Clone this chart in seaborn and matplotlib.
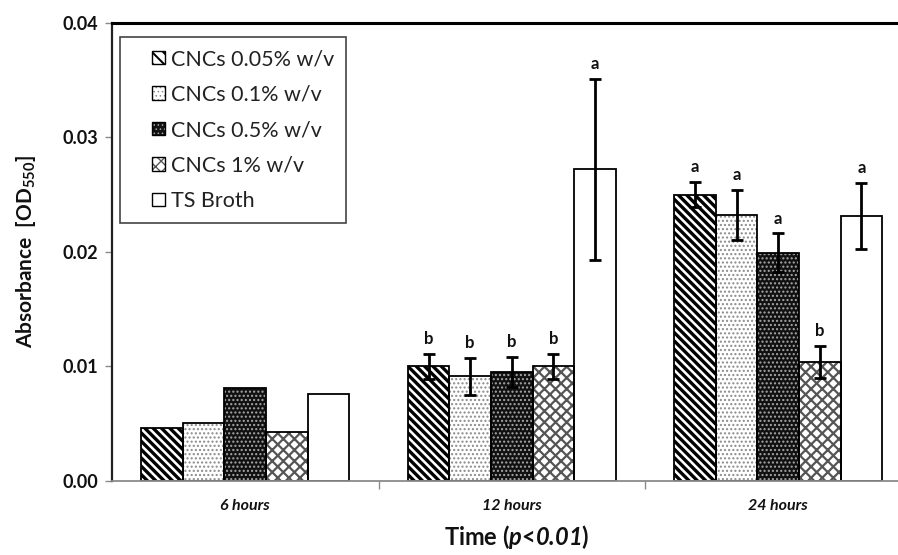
import numpy as np
import pandas as pd
import matplotlib
matplotlib.use("Agg")
import matplotlib.pyplot as plt
import seaborn as sns
from matplotlib.patches import Rectangle
from matplotlib.legend_handler import HandlerBase

# ---------------- data ----------------
times = ["6 hours", "12 hours", "24 hours"]
groups = ["CNCs 0.05% w/v", "CNCs 0.1% w/v", "CNCs 0.5% w/v", "CNCs 1% w/v", "TS Broth"]

cnc_005 = [0.0046, 0.0100, 0.0250]
cnc_01 = [0.0050, 0.0091, 0.0232]
cnc_05 = [0.0081, 0.0095, 0.0199]
cnc_1 = [0.0042, 0.0100, 0.0104]
ts_broth = [0.0076, 0.0272, 0.0231]

err_005 = [np.nan, 0.0011, 0.0011]
err_01 = [np.nan, 0.0016, 0.0022]
err_05 = [np.nan, 0.0013, 0.0017]
err_1 = [np.nan, 0.0011, 0.0014]
err_ts = [np.nan, 0.0079, 0.0029]

let_005 = ["", "b", "a"]
let_01 = ["", "b", "a"]
let_05 = ["", "b", "a"]
let_1 = ["", "b", "b"]
let_ts = ["", "a", "a"]

yticks = [0.00, 0.01, 0.02, 0.03, 0.04]

values = [cnc_005, cnc_01, cnc_05, cnc_1, ts_broth]
errors = [err_005, err_01, err_05, err_1, err_ts]
letters = [let_005, let_01, let_05, let_1, let_ts]

rows = []
for g, vals in zip(groups, values):
    for t, v in zip(times, vals):
        rows.append({"time": t, "group": g, "value": v})
df = pd.DataFrame(rows)

# ---------------- style ----------------
sns.set_theme(style="white")
FONT = "Lato"
plt.rcParams["font.family"] = [FONT, "DejaVu Sans"]
plt.rcParams["mathtext.fontset"] = "custom"
plt.rcParams["mathtext.rm"] = FONT
plt.rcParams["mathtext.it"] = FONT + ":italic"
plt.rcParams["mathtext.bf"] = FONT + ":bold"
try:
    plt.rcParams["mathtext.bfit"] = FONT + ":bold:italic"
except KeyError:
    pass
plt.rcParams["hatch.linewidth"] = 1.0

# per-group styles: face colour, hatch, hatch colour, hatch linewidth
faces = ["white", "white", "#111111", "white", "white"]
hatches = ["\\\\\\\\", "....", "....", "xxx", ""]
hatch_cols = ["black", "#8a8a8a", "#a8a8a8", "#555555", "black"]
hatch_lws = [2.4, 1.0, 1.0, 1.6, 1.0]

fig = plt.figure(figsize=(8.98, 5.55), dpi=100)
ax = fig.add_axes([112 / 898, 1 - 480.5 / 555, 799.5 / 898, 457.5 / 555])

sns.barplot(data=df, x="time", y="value", hue="group", order=times,
            hue_order=groups, palette=faces, saturation=1, width=0.78,
            errorbar=None, legend=False, linewidth=0, ax=ax)
fill_bars = sorted(list(ax.patches), key=lambda p: p.get_x())
for i, p in enumerate(fill_bars):
    g = i % len(groups)
    p.set_hatch(hatches[g])
    p.set_edgecolor(hatch_cols[g])
    p.set_linewidth(0)
    if hasattr(p, "set_hatch_linewidth"):
        p.set_hatch_linewidth(hatch_lws[g])

# outlines
sns.barplot(data=df, x="time", y="value", hue="group", order=times,
            hue_order=groups, palette=["black"] * 5, fill=False, width=0.78,
            errorbar=None, legend=False, linewidth=1.3, ax=ax)

# error bars and significance letters
for i, p in enumerate(fill_bars):
    c, g = i // len(groups), i % len(groups)
    xc = p.get_x() + p.get_width() / 2
    v = values[g][c]
    e = errors[g][c]
    if not np.isnan(e):
        ax.errorbar([xc], [v], yerr=[e], fmt="none", ecolor="black",
                    elinewidth=2.0, capsize=4, capthick=2.0, zorder=5)
    if letters[g][c]:
        top = v + (0 if np.isnan(e) else e)
        ax.annotate(letters[g][c], (xc, top), xytext=(0, 5),
                    textcoords="offset points", ha="center", va="bottom",
                    fontsize=12, fontweight="bold", color="#111111")

# axes
ax.set_xlim(-0.5, 2.5)
ax.set_ylim(0, 0.04)
ax.set_yticks(yticks)
ax.set_yticklabels([f"{t:.2f}" for t in yticks], fontsize=13, fontweight="bold")
ax.tick_params(axis="y", direction="out", length=5, color="#8a8a8a", width=1,
               pad=5, left=True, labelcolor="#111111")
ax.set_xticks(range(len(times)))
ax.set_xticklabels(times, fontsize=11.5, fontweight="bold", style="italic")
ax.tick_params(axis="x", which="major", length=0, pad=13, labelcolor="#111111")
ax.set_xticks([0.5, 1.5], minor=True)
ax.tick_params(axis="x", which="minor", direction="out", length=6,
               color="#8a8a8a", width=1, bottom=True)

ax.spines["top"].set_color("black")
ax.spines["top"].set_linewidth(2.2)
ax.spines["left"].set_color("#222222")
ax.spines["left"].set_linewidth(1.6)
ax.spines["right"].set_visible(False)
ax.spines["bottom"].set_color("#8a8a8a")
ax.spines["bottom"].set_linewidth(1.3)

ax.set_ylabel(r"Absorbance  [$\mathbf{OD_{550}}$]", fontsize=15,
              fontweight="bold", color="#111111")
ax.yaxis.set_label_coords(-0.093, 0.5)
ax.set_xlabel(r"Time ($\mathbfit{p}$<$\mathbfit{0.01}$)", fontsize=17,
              fontweight="bold", color="#111111")
ax.xaxis.set_label_coords(0.506, -0.092)


# legend with small hatched squares
class Swatch:
    def __init__(self, face, hatch, hcol, hlw):
        self.face, self.hatch, self.hcol, self.hlw = face, hatch, hcol, hlw


class SwatchHandler(HandlerBase):
    def create_artists(self, legend, orig, xdescent, ydescent, width, height,
                       fontsize, trans):
        s = height * 0.95
        x0 = -xdescent + width - s
        y0 = -ydescent + (height - s) / 2
        r1 = Rectangle((x0, y0), s, s, facecolor=orig.face, hatch=orig.hatch,
                       edgecolor=orig.hcol, linewidth=0, transform=trans)
        if hasattr(r1, "set_hatch_linewidth"):
            r1.set_hatch_linewidth(orig.hlw * 0.6)
        r2 = Rectangle((x0, y0), s, s, fill=False, edgecolor="black",
                       linewidth=1.0, transform=trans)
        return [r1, r2]


handles = [Swatch(faces[g], hatches[g].replace("\\\\\\\\", "\\\\\\"), hatch_cols[g], hatch_lws[g])
           for g in range(len(groups))]
leg = ax.legend(handles, groups, handler_map={Swatch: SwatchHandler()},
                loc="upper left", bbox_to_anchor=(0.010, 0.969),
                fontsize=15.5, frameon=True, fancybox=False, framealpha=1,
                edgecolor="#444444", handlelength=1.55, handleheight=0.62,
                handletextpad=0.25, labelspacing=0.72, borderpad=0.55,
                borderaxespad=0)
leg.get_frame().set_linewidth(1.2)
for t in leg.get_texts():
    t.set_color("#222222")

fig.savefig("out.png", dpi=100)
